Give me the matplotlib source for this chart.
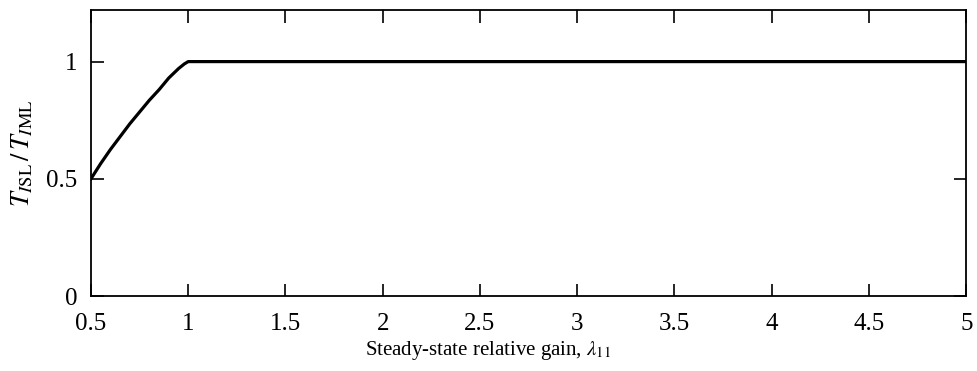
import matplotlib
matplotlib.use("Agg")
import matplotlib.pyplot as plt

# data
gain = [0.5, 0.55, 0.6, 0.65, 0.7, 0.75, 0.8, 0.85, 0.9, 0.95, 0.98, 1.0, 5.0]
ratio = [0.5, 0.565, 0.625, 0.68, 0.735, 0.785, 0.835, 0.88, 0.93, 0.97, 0.99, 1.0, 1.0]
xticks = [0.5, 1, 1.5, 2, 2.5, 3, 3.5, 4, 4.5, 5]
xticklabels = ["0.5", "1", "1.5", "2", "2.5", "3", "3.5", "4", "4.5", "5"]
yticks = [0, 0.5, 1]
yticklabels = ["0", "0.5", "1"]

plt.rcParams['font.family'] = ['Liberation Serif', 'DejaVu Serif']
plt.rcParams['mathtext.fontset'] = 'stix'

fig = plt.figure(figsize=(9.78, 3.71), dpi=100)
ax = fig.add_axes([0.093, 0.202, 0.895, 0.771])
ax.plot(gain, ratio, color='black', lw=2.3, solid_joinstyle='round')
ax.set_xlim(0.5, 5)
ax.set_ylim(0, 1.22)
ax.set_xticks(xticks)
ax.set_xticklabels(xticklabels)
ax.set_yticks(yticks)
ax.set_yticklabels(yticklabels)
ax.tick_params(direction='in', top=True, right=True, length=9, width=1.2,
               labelsize=18)
ax.tick_params(axis='x', pad=12)
ax.tick_params(axis='y', pad=10)
for s in ax.spines.values():
    s.set_linewidth(1.3)
ax.set_xlabel(r'Steady-state relative gain, $\lambda_{11}$', fontsize=15, labelpad=2)
ax.xaxis.set_label_coords(0.454, -0.15)
ax.set_ylabel(r'$T_{I\mathrm{SL}}\,/\,T_{I\mathrm{ML}}$', fontsize=19)
ax.yaxis.set_label_coords(-0.064, 0.5)
fig.savefig('out.png', dpi=100)
